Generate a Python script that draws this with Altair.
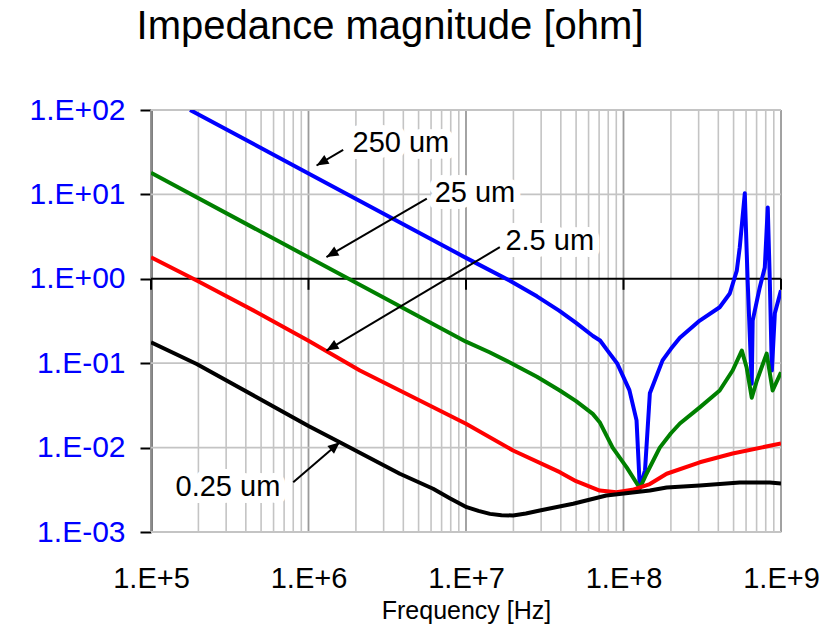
import math
import altair as alt
import pandas as pd

# ---------------- data ----------------
series_names = ["250 um", "25 um", "2.5 um", "0.25 um"]
series_colors = ["#0000FF", "#008000", "#FF0000", "#000000"]

blue_f = [1.77e5, 1.0e6, 1.0e7, 1.9e7, 2.82e7, 3.9e7, 5.0e7, 6.4e7, 7.1e7, 7.94e7, 9.1e7,
          1.09e8, 1.21e8, 1.27e8, 1.37e8, 1.47e8, 1.77e8, 2.0e8, 2.28e8, 3.05e8, 4.08e8,
          4.73e8, 5.24e8, 5.47e8, 5.89e8, 6.14e8, 6.52e8, 6.61e8, 7.33e8, 7.89e8, 8.24e8,
          8.49e8, 8.75e8, 9.14e8, 1.0e9]
blue_z = [100, 17.7, 1.77, 0.95, 0.62, 0.42, 0.30, 0.21, 0.186, 0.14, 0.10,
          0.048, 0.021, 0.0033, 0.0054, 0.044, 0.108, 0.148, 0.20, 0.32, 0.46,
          0.67, 1.25, 2.35, 10.3, 0.95, 0.057, 0.32, 0.79, 1.36, 7.0,
          0.95, 0.082, 0.39, 0.73]

green_f = [1e5, 1e6, 1e7, 1.41e7, 1.98e7, 2.82e7, 3.94e7, 5.0e7, 6.38e7, 7.06e7, 8.53e7,
           1.05e8, 1.27e8, 1.40e8, 1.70e8, 2.0e8, 2.28e8, 3.05e8, 4.08e8, 4.93e8, 5.64e8,
           6.05e8, 6.52e8, 7.02e8, 8.11e8, 8.85e8, 1e9]
green_z = [18.0, 1.80, 0.18, 0.135, 0.098, 0.069, 0.0475, 0.0355, 0.0251, 0.020, 0.010,
           0.0058, 0.0033, 0.0049, 0.010, 0.0148, 0.0193, 0.030, 0.0475, 0.082, 0.141,
           0.089, 0.039, 0.062, 0.130, 0.0475, 0.078]

red_f = [1e5, 1.95e5, 4.69e5, 1e6, 2.12e6, 3.8e6, 1e7, 1.99e7, 3.94e7, 5.0e7, 7.06e7,
         9.02e7, 1.14e8, 1.47e8, 1.88e8, 3.05e8, 4.93e8, 1e9]
red_z = [1.80, 0.955, 0.402, 0.184, 0.0818, 0.0475, 0.0192, 0.00925, 0.00512, 0.0040, 0.0031,
         0.00295, 0.00316, 0.0037, 0.0049, 0.0067, 0.0085, 0.0112]

black_f = [1e5, 1.95e5, 4.69e5, 1e6, 1.58e6, 3.8e6, 6.18e6, 7.94e6, 1.01e7, 1.2e7, 1.42e7,
           1.68e7, 1.99e7, 2.4e7, 2.94e7, 4.79e7, 7.78e7, 1.14e8, 1.47e8, 1.88e8, 3.05e8,
           5.47e8, 8.49e8, 1e9]
black_z = [0.177, 0.098, 0.0395, 0.018, 0.0116, 0.0049, 0.00325, 0.0025, 0.00197, 0.00178, 0.00164,
           0.00158, 0.00157, 0.00166, 0.0018, 0.00216, 0.00271, 0.00294, 0.0031, 0.00336, 0.00356,
           0.00385, 0.00385, 0.00376]

# annotations (label position, arrow tail, arrow tip) in data units
ann_label = ["250 um", "25 um", "2.5 um", "0.25 um"]
ann_text_f = [3.86e6, 1.14e7, 3.40e7, 3.08e5]
ann_text_z = [40.6, 10.3, 2.77, 0.00337]
arrow_tail_f = [1.66e6, 5.64e6, 1.64e7, 8.0e5]
arrow_tail_z = [33.7, 8.93, 2.37, 0.00389]
arrow_tip_f = [1.125e6, 1.30e6, 1.30e6, 1.58e6]
arrow_tip_z = [22.0, 1.81, 0.141, 0.0116]

x_decades = [1e5, 1e6, 1e7, 1e8, 1e9]
y_decades = [1e-3, 1e-2, 1e-1, 1e0, 1e1, 1e2]

# ---------------- build tables ----------------
W, H = 630, 422
FONT = "Liberation Sans"

rows = []
for name, fs, zs in zip(series_names,
                        [blue_f, green_f, red_f, black_f],
                        [blue_z, green_z, red_z, black_z]):
    for i, (f, z) in enumerate(zip(fs, zs)):
        rows.append({"series": name, "f": f, "z": z, "order": i})
curves = pd.DataFrame(rows)

minor_x = [m * 10 ** k for k in range(5, 9) for m in range(2, 10)]
grid_minor = pd.DataFrame({"f": minor_x})
grid_major = pd.DataFrame({"f": x_decades})
grid_h = pd.DataFrame({"z": [v for v in y_decades if v != 1e0]})
unity_ticks = pd.DataFrame({"f": x_decades, "z": [1.0] * len(x_decades)})

arrows = []
for lab, tf, tz, hf, hz in zip(ann_label, arrow_tail_f, arrow_tail_z, arrow_tip_f, arrow_tip_z):
    dx = (math.log10(hf) - math.log10(tf)) * W / 4.0
    dy = -(math.log10(hz) - math.log10(tz)) * H / 5.0
    ang = math.degrees(math.atan2(dx, -dy)) % 360
    arrows.append({"label": lab, "f": tf, "z": tz, "hf": hf, "hz": hz, "ang": ang})
arrows = pd.DataFrame(arrows)
labels = pd.DataFrame({"label": ann_label, "f": ann_text_f, "z": ann_text_z})

xscale = alt.Scale(type="log", domain=[1e5, 1e9], nice=False)
yscale = alt.Scale(type="log", domain=[1e-3, 1e2], nice=False)

x_axis = alt.Axis(values=x_decades,
                  labelExpr="'1.E+' + format(log(datum.value)/LN10, '.0f')",
                  labelFont=FONT, labelFontSize=29, labelColor="black",
                  labelFlush=False, labelOverlap=False,
                  ticks=False, tickSize=0, domain=False, grid=False,
                  labelBaseline="alphabetic", labelPadding=55,
                  title="Frequency [Hz]", titleFont=FONT, titleFontSize=25,
                  titleFontWeight="normal", titleColor="black",
                  titleBaseline="alphabetic", titleY=86)
y_axis = alt.Axis(values=y_decades,
                  labelExpr="(log(datum.value)/LN10 < -0.5 ? '1.E-' : '1.E+') + format(abs(log(datum.value)/LN10), '02.0f')",
                  labelFont=FONT, labelFontSize=30, labelColor="#0000FF",
                  labelOverlap=False, labelFlush=False,
                  tickSize=11, tickWidth=2, tickColor="black",
                  domainColor="black", domainWidth=2, labelPadding=15,
                  grid=False, title=None)

X = alt.X("f:Q", scale=xscale, axis=x_axis)
Y = alt.Y("z:Q", scale=yscale, axis=y_axis)

minor_layer = alt.Chart(grid_minor).mark_rule(color="#c4c4c4", strokeWidth=1.6).encode(x=X)
major_layer = alt.Chart(grid_major).mark_rule(color="#9a9a9a", strokeWidth=1.8).encode(x=X)
hgrid_layer = alt.Chart(grid_h).mark_rule(color="#c4c4c4", strokeWidth=1.8).encode(y=Y)
unity_layer = alt.Chart(pd.DataFrame({"z": [1.0]})).mark_rule(color="black", strokeWidth=2).encode(y=Y)
unity_tick_layer = alt.Chart(unity_ticks).mark_tick(
    orient="vertical", color="black", size=11, thickness=2, yOffset=5.5, opacity=1).encode(x=X, y=Y)

curve_layer = alt.Chart(curves).mark_line(strokeWidth=4, clip=True, strokeJoin="round").encode(
    x=X, y=Y,
    color=alt.Color("series:N", scale=alt.Scale(domain=series_names, range=series_colors), legend=None),
    order="order:Q")

halo_layer = alt.Chart(labels).mark_text(
    font=FONT, fontSize=29, color="white", stroke="white", strokeWidth=14, strokeJoin="round",
    align="center", baseline="middle").encode(x=X, y=Y, text="label:N")
text_layer = alt.Chart(labels).mark_text(
    font=FONT, fontSize=29, color="black", align="center", baseline="middle").encode(
    x=X, y=Y, text="label:N")

arrow_line = alt.Chart(arrows).mark_rule(color="black", strokeWidth=2).encode(
    x=X, x2="hf:Q", y=Y, y2="hz:Q")
arrow_head = alt.Chart(arrows).mark_point(
    shape="M0,0 L-0.85,2 L0.85,2 Z", filled=True, color="black", opacity=1, size=144, strokeWidth=0).encode(
    x=alt.X("hf:Q", scale=xscale, axis=x_axis),
    y=alt.Y("hz:Q", scale=yscale, axis=y_axis),
    angle=alt.Angle("ang:Q", scale=None))

chart = alt.layer(
    minor_layer, major_layer, hgrid_layer, unity_layer, unity_tick_layer,
    curve_layer, halo_layer, text_layer, arrow_line, arrow_head
).properties(
    width=W, height=H,
    padding={"left": 151, "top": 110, "right": 58, "bottom": 112},
    autosize=alt.AutoSizeParams(type="none"),
    title=alt.TitleParams("Impedance magnitude [ohm]", font=FONT, fontSize=40,
                          fontWeight="normal", color="black", anchor="middle",
                          dx=-76, offset=16, baseline="alphabetic"),
).configure_view(stroke="#808080", strokeWidth=2).configure(background="white")

chart.save("out.html", embed_options={"renderer": "svg", "actions": False})
